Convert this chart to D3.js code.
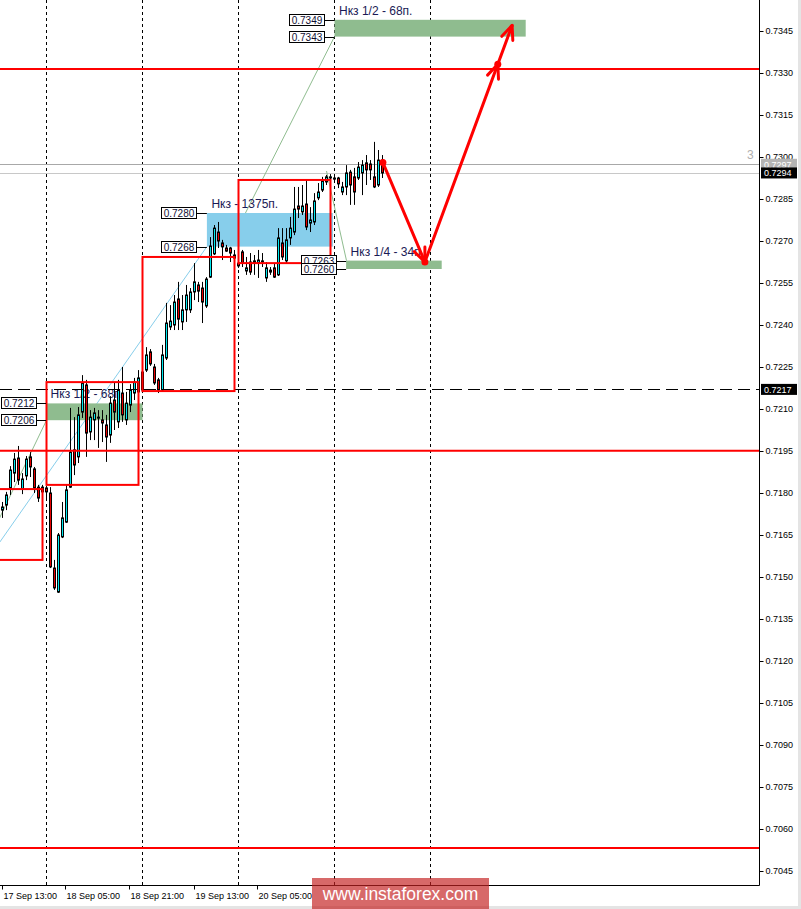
<!DOCTYPE html>
<html><head><meta charset="utf-8">
<script src="https://cdn.jsdelivr.net/npm/d3@7"></script>
<style>
body{margin:0;background:#fff}
svg{display:block}
text{font-family:"Liberation Sans",Arial,sans-serif}
</style>
</head><body>
<svg id="c" width="801" height="909"></svg>
<script>
// ---------- DATA ----------
// hourly candles starting 17 Sep 13:00
const opens=[0.71739,0.71757,0.71818,0.71871,0.71925,0.71814,0.71861,0.71929,0.71886,0.71821,
0.71821,0.71818,0.71800,0.71532,0.71446,0.71643,0.71696,0.71821,0.71954,0.71929,
0.72089,0.72186,0.72018,0.72061,0.72071,0.72061,0.72043,0.72007,0.72132,0.72054,
0.72157,0.72061,0.72114,0.72157,0.72161,0.72168,0.72239,0.72304,0.72250,0.72204,
0.72168,0.72282,0.72393,0.72400,0.72493,0.72411,0.72454,0.72454,0.72518,0.72543,
0.72532,0.72468,0.72571,0.72654,0.72732,0.72693,0.72675,0.72675,0.72639,0.72621,
0.72661,0.72593,0.72625,0.72621,0.72621,0.72625,0.72568,0.72589,0.72604,0.72579,
0.72693,0.72629,0.72711,0.72732,0.72825,0.72804,0.72832,0.72764,0.72768,0.72854,
0.72882,0.72911,0.72925,0.72925,0.72925,0.72875,0.72893,0.72946,0.72929,0.72925,
0.72943,0.72979,0.72975,0.72929,0.72900,0.72989];
const highs=[0.71768,0.71804,0.71896,0.71943,0.71968,0.71871,0.71932,0.71946,0.71893,0.71829,
0.71829,0.71825,0.71821,0.71561,0.71657,0.71768,0.71829,0.72104,0.72071,0.72107,
0.72221,0.72204,0.72096,0.72104,0.72096,0.72096,0.72079,0.72146,0.72193,0.72204,
0.72250,0.72161,0.72189,0.72211,0.72239,0.72246,0.72321,0.72314,0.72261,0.72211,
0.72329,0.72479,0.72471,0.72507,0.72554,0.72507,0.72543,0.72532,0.72621,0.72554,
0.72554,0.72571,0.72714,0.72757,0.72768,0.72704,0.72686,0.72679,0.72668,0.72639,
0.72668,0.72643,0.72657,0.72650,0.72668,0.72657,0.72625,0.72607,0.72621,0.72746,
0.72746,0.72746,0.72786,0.72893,0.72893,0.72900,0.72918,0.72821,0.72871,0.72907,
0.72929,0.72936,0.72939,0.72932,0.72929,0.72911,0.72971,0.72954,0.72961,0.72982,
0.72989,0.73007,0.72989,0.73054,0.73025,0.73007];
const lows=[0.71711,0.71739,0.71793,0.71839,0.71829,0.71796,0.71846,0.71857,0.71800,0.71768,
0.71786,0.71779,0.71532,0.71454,0.71443,0.71639,0.71693,0.71818,0.71864,0.71907,
0.72068,0.71929,0.71989,0.71989,0.71961,0.71982,0.71911,0.71979,0.72025,0.72032,
0.72054,0.72043,0.72089,0.72132,0.72150,0.72157,0.72232,0.72254,0.72186,0.72157,
0.72161,0.72275,0.72382,0.72382,0.72382,0.72382,0.72411,0.72443,0.72489,0.72482,
0.72407,0.72461,0.72568,0.72650,0.72675,0.72632,0.72661,0.72625,0.72625,0.72604,
0.72607,0.72579,0.72579,0.72579,0.72568,0.72607,0.72554,0.72579,0.72568,0.72575,
0.72632,0.72621,0.72686,0.72721,0.72782,0.72793,0.72739,0.72732,0.72757,0.72846,
0.72875,0.72900,0.72918,0.72907,0.72889,0.72864,0.72864,0.72829,0.72829,0.72918,
0.72864,0.72900,0.72918,0.72889,0.72893,0.72925];
const closes=[0.71750,0.71793,0.71882,0.71921,0.71846,0.71850,0.71921,0.71893,0.71818,0.71782,
0.71804,0.71804,0.71536,0.71461,0.71650,0.71711,0.71811,0.71946,0.71900,0.72079,
0.72193,0.72014,0.72071,0.72086,0.72068,0.72050,0.72000,0.72121,0.72089,0.72168,
0.72079,0.72121,0.72168,0.72196,0.72211,0.72232,0.72293,0.72261,0.72193,0.72168,
0.72293,0.72407,0.72414,0.72482,0.72421,0.72454,0.72507,0.72518,0.72554,0.72521,
0.72482,0.72564,0.72682,0.72746,0.72700,0.72679,0.72664,0.72657,0.72650,0.72611,
0.72621,0.72604,0.72589,0.72629,0.72632,0.72629,0.72604,0.72596,0.72571,0.72711,
0.72643,0.72704,0.72746,0.72814,0.72814,0.72825,0.72750,0.72775,0.72843,0.72875,
0.72914,0.72929,0.72929,0.72921,0.72904,0.72893,0.72943,0.72900,0.72875,0.72964,
0.72971,0.72954,0.72954,0.72893,0.72989,0.72943];

const priceTicks=[0.7345,0.7330,0.7315,0.7300,0.7285,0.7270,0.7255,0.7240,0.7225,0.7210,0.7195,
0.7180,0.7165,0.7150,0.7135,0.7120,0.7105,0.7090,0.7075,0.7060,0.7045];
const timeTickHours=[0,16,32,48,64];
const daySepHours=[11,35,59,83,107];

const redLevels=[0.73314,0.71951,0.70532];
const dashedLevel=0.7217;
const askPrice=0.72974, bidPrice=0.72943, spreadText="3";

// daily range boxes: [startHour, endHour, top, bottom]
const boxStart=[-13,11,35,59], boxEnd=[10,34,58,82];
const boxTop=[0.71814,0.72196,0.72643,0.72918], boxBottom=[0.71561,0.71829,0.72164,0.72621];

// zones
const zoneStart=[83,85.9,10.9,51.1], zoneEnd=[130.8,109.8,35,82.6];
const zoneHigh=[0.7349,0.7263,0.7212,0.7280], zoneLow=[0.7343,0.7260,0.7206,0.7268];
const zoneColor=["#8fbc8f","#8fbc8f","#8fbc8f","#87ceeb"];
const zoneText=["Нкз 1/2 - 68п.","Нкз 1/4 - 34п.","Нкз 1/2 - 68п.","Нкз - 1375п."];

// thin trend lines: [h1,p1,h2,p2]
const trendGreen=[[56.5,0.7268,83,0.7343],[81,0.7295,86,0.7263],[-6,0.71554,11,0.7206]];
const trendBlue=[[-9.1,0.71453,51.1,0.7268]];

// forecast arrow path [hour, price]
const arrowHours=[95.1,105.6,127.4], arrowPrices=[0.7298,0.72625,0.7347];

// ---------- SCALES ----------
const T0=new Date(2020,8,17,13);
const hour=h=>new Date(T0.getTime()+h*3600e3);
const plotR=759.5, plotB=885.5;
const x=d3.scaleTime().domain([hour(0),hour(190)]).range([2.5,762.5]);
const y=d3.scaleLinear().domain([0.7045,0.7345]).range([871,31]);
const X=h=>x(hour(h));

const svg=d3.select("#c");
svg.append("rect").attr("width",801).attr("height",909).attr("fill","#fff");
const clip=svg.append("defs").append("clipPath").attr("id","pc");
clip.append("rect").attr("x",0).attr("y",0).attr("width",plotR).attr("height",plotB);
const P=svg.append("g").attr("clip-path","url(#pc)");

// day separators
P.selectAll("line.sep").data(daySepHours).join("line")
 .attr("x1",d=>X(d)).attr("x2",d=>X(d)).attr("y1",0).attr("y2",plotB)
 .attr("stroke","#000").attr("stroke-dasharray","3,3").attr("stroke-width",1);

// ask / bid lines
P.append("line").attr("x1",0).attr("x2",plotR).attr("y1",Math.round(y(askPrice))+0.5).attr("y2",Math.round(y(askPrice))+0.5)
 .attr("stroke","#a8a8a8");
P.append("line").attr("x1",0).attr("x2",plotR).attr("y1",Math.round(y(bidPrice))+0.5).attr("y2",Math.round(y(bidPrice))+0.5)
 .attr("stroke","#c8c8c8");

// trend lines
trendGreen.forEach(t=>P.append("line").attr("x1",X(t[0])).attr("y1",y(t[1])).attr("x2",X(t[2])).attr("y2",y(t[3]))
 .attr("stroke","#8fbc8f").attr("stroke-width",1));
trendBlue.forEach(t=>P.append("line").attr("x1",X(t[0])).attr("y1",y(t[1])).attr("x2",X(t[2])).attr("y2",y(t[3]))
 .attr("stroke","#87ceeb").attr("stroke-width",1));

// zones
zoneStart.forEach((s,i)=>{
  P.append("rect").attr("x",X(s)).attr("y",y(zoneHigh[i])).attr("width",X(zoneEnd[i])-X(s))
   .attr("height",y(zoneLow[i])-y(zoneHigh[i])).attr("fill",zoneColor[i]);
});
// zone captions
zoneStart.forEach((s,i)=>{
  P.append("text").attr("x",X(s)+4.5).attr("y",y(zoneHigh[i])-5).attr("font-size",12)
   .attr("fill","#1a1a55").text(zoneText[i]);
});

// candles
const idx=d3.range(opens.length);
const cx=i=>X(i);
P.selectAll("line.wick").data(idx).join("line")
 .attr("x1",cx).attr("x2",cx).attr("y1",i=>y(highs[i])).attr("y2",i=>y(lows[i]))
 .attr("stroke","#000").attr("stroke-width",1);
P.selectAll("rect.body").data(idx).join("rect")
 .attr("x",i=>cx(i)-1).attr("width",2)
 .attr("y",i=>Math.min(y(opens[i]),y(closes[i])))
 .attr("height",i=>Math.max(1,Math.abs(y(opens[i])-y(closes[i]))))
 .attr("fill",i=>closes[i]>=opens[i]?"#00e8f0":"#e60000")
 .attr("stroke","#000").attr("stroke-width",1);

// zone price label boxes
const labG=svg.append("g");
zoneStart.forEach((s,i)=>{
  [zoneHigh[i],zoneLow[i]].forEach(p=>{
    const zx=X(s), yy=Math.round(y(p))+0.5, bx=Math.round(zx-10-35.5)+0.5;
    labG.append("line").attr("x1",bx+35).attr("x2",zx).attr("y1",yy).attr("y2",yy).attr("stroke","#000");
    labG.append("rect").attr("x",bx).attr("y",yy-6).attr("width",35).attr("height",11)
      .attr("fill","#fff").attr("stroke","#000");
    labG.append("text").attr("x",bx+17.5).attr("y",yy+3.8).attr("text-anchor","middle")
      .attr("font-size",10).attr("fill","#101035").text(p.toFixed(4));
  });
});

// red horizontal levels
P.selectAll("line.lvl").data(redLevels).join("line")
 .attr("x1",0).attr("x2",plotR).attr("y1",d=>y(d)).attr("y2",d=>y(d))
 .attr("stroke","#ff0000").attr("stroke-width",2);
// dashed level
P.append("line").attr("x1",0).attr("x2",plotR).attr("y1",Math.round(y(dashedLevel))+0.5).attr("y2",Math.round(y(dashedLevel))+0.5)
 .attr("stroke","#000").attr("stroke-dasharray","12,6");

// red boxes
boxStart.forEach((s,i)=>{
  P.append("rect").attr("x",X(s)).attr("y",y(boxTop[i])).attr("width",X(boxEnd[i])-X(s))
   .attr("height",y(boxBottom[i])-y(boxTop[i])).attr("fill","none").attr("stroke","#ff0000").attr("stroke-width",2);
});

// forecast arrows
const pts=arrowHours.map((h,i)=>[X(h),y(arrowPrices[i])]);
P.append("path").attr("d",d3.line()(pts)).attr("fill","none").attr("stroke","#ff0000").attr("stroke-width",3)
 .attr("stroke-linejoin","round");
function head(tip,from){
  const dx=tip[0]-from[0], dy=tip[1]-from[1], L=Math.hypot(dx,dy), ux=dx/L, uy=dy/L, a=0.4, len=15;
  [a,-a].forEach(t=>{
    const rx=ux*Math.cos(t)-uy*Math.sin(t), ry=ux*Math.sin(t)+uy*Math.cos(t);
    P.append("line").attr("x1",tip[0]).attr("y1",tip[1]).attr("x2",tip[0]-rx*len).attr("y2",tip[1]-ry*len)
     .attr("stroke","#ff0000").attr("stroke-width",3).attr("stroke-linecap","round");
  });
}
head(pts[1],pts[0]);
head(pts[2],pts[1]);
const mid=[pts[1][0]+0.836*(pts[2][0]-pts[1][0]), pts[1][1]+0.836*(pts[2][1]-pts[1][1])];
head(mid,pts[1]);
[pts[0],pts[1],mid].forEach(p=>P.append("circle").attr("cx",p[0]).attr("cy",p[1]).attr("r",3.5).attr("fill","#ff0000"));

// ---------- AXES ----------
// right price axis
const ya=svg.append("g").attr("transform",`translate(${plotR},0)`)
 .call(d3.axisRight(y).tickValues(priceTicks).tickFormat(d3.format(".4f")).tickSize(4).tickPadding(2));
ya.select(".domain").remove();
ya.selectAll("text").attr("font-size",9).attr("fill","#000").attr("font-family","Liberation Sans, Arial, sans-serif");
ya.selectAll("line").attr("stroke","#000");
svg.append("line").attr("x1",plotR).attr("x2",plotR).attr("y1",0).attr("y2",plotB).attr("stroke","#000");
svg.append("line").attr("x1",0).attr("x2",plotR).attr("y1",plotB).attr("y2",plotB).attr("stroke","#000");

// price markers
function marker(p,bg,fg){
  const yy=y(p);
  svg.append("rect").attr("x",761).attr("y",yy-5.5).attr("width",36).attr("height",11).attr("fill",bg);
  svg.append("text").attr("x",764).attr("y",yy+3.3).attr("font-size",9).attr("fill",fg).text(p.toFixed(4));
}
marker(askPrice,"#b4b4b4","#fff");
marker(bidPrice,"#000","#fff");
marker(dashedLevel,"#000","#fff");
svg.append("text").attr("x",747).attr("y",y(askPrice)-5).attr("font-size",12).attr("fill","#b0b0b0").text(spreadText);

// bottom time axis
const fmt=d3.timeFormat("%d %b %H:%M");
const xa=svg.append("g");
timeTickHours.forEach(h=>{
  const xx=Math.round(X(h))-0.5;
  xa.append("line").attr("x1",xx).attr("x2",xx).attr("y1",plotB).attr("y2",plotB+4).attr("stroke","#000");
  xa.append("text").attr("x",xx+1).attr("y",899).attr("font-size",9).attr("fill","#000").text(fmt(hour(h)));
});

// frame edges
svg.append("rect").attr("x",798).attr("y",0).attr("width",3).attr("height",909).attr("fill","#e4e4e4");
svg.append("rect").attr("x",0).attr("y",906).attr("width",801).attr("height",3).attr("fill","#e4e4e4");

// watermark
svg.append("rect").attr("x",312).attr("y",878).attr("width",177).attr("height",31).attr("fill","rgba(196,34,34,0.68)");
svg.append("text").attr("x",400.5).attr("y",900).attr("text-anchor","middle").attr("font-size",17.5)
 .attr("fill","#fff").text("www.instaforex.com");
</script>
</body></html>
